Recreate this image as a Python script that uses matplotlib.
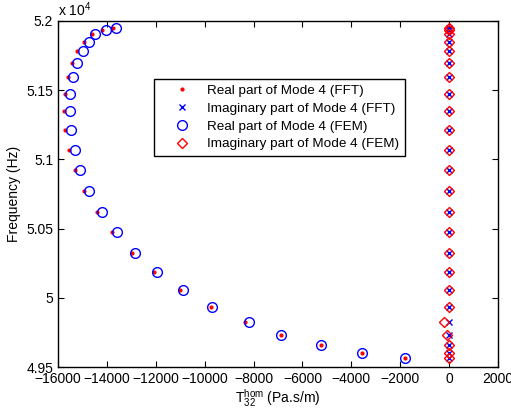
import numpy as np
import matplotlib.pyplot as plt

plt.rcParams['font.family'] = ['Liberation Sans', 'DejaVu Sans']
plt.rcParams['font.size'] = 10
plt.rcParams['mathtext.fontset'] = 'custom'
plt.rcParams['mathtext.rm'] = 'Liberation Sans'
plt.rcParams['mathtext.it'] = 'Liberation Sans'

# frequencies (Hz) of the modes
freq = [51952, 51937, 51904, 51850, 51781, 51694, 51593, 51475, 51350, 51215,
        51070, 50921, 50774, 50622, 50473, 50326, 50189, 50054, 49934, 49825,
        49731, 49657, 49601, 49567]

# real part, FEM
real_fem = [-13640, -14040, -14470, -14720, -14990, -15210, -15370, -15500, -15510, -15470,
            -15300, -15090, -14720, -14210, -13600, -12850, -11940, -10890, -9690, -8200,
            -6880, -5230, -3560, -1800]

# real part, FFT
real_fft = [-13760, -14200, -14600, -14920, -15210, -15440, -15610, -15730, -15750, -15700,
            -15550, -15290, -14940, -14420, -13790, -12990, -12070, -11000, -9760, -8370,
            -6880, -5230, -3560, -1800]

# imaginary part, FFT and FEM
imag_fft = [0, 0, 0, 0, 0, 0, 0, 0, 0, 0,
            0, 0, 0, 0, 0, 0, 0, 0, 0, 0,
            0, 0, 0, 0]
imag_fem = [0, 0, 0, 0, 0, 0, 0, 0, 0, 0,
            0, 0, 0, 0, 0, 0, 0, 0, 0, -200,
            -80, 0, 0, 0]

fig = plt.figure(figsize=(5.11, 4.19), dpi=100)
ax = fig.add_axes([0.1135, 0.1241, 0.8611, 0.8258])

ax.plot(real_fft, freq, '.', color='red', markersize=4, label='Real part of Mode 4 (FFT)')
ax.plot(imag_fft, freq, 'x', color='blue', markersize=4.5, markeredgewidth=1, label='Imaginary part of Mode 4 (FFT)')
ax.plot(real_fem, freq, 'o', color='blue', markerfacecolor='none', markersize=7, markeredgewidth=1,
        label='Real part of Mode 4 (FEM)')
ax.plot(imag_fem, freq, 'D', color='red', markerfacecolor='none', markersize=5, markeredgewidth=1,
        label='Imaginary part of Mode 4 (FEM)')

ax.set_xlim(-16000, 2000)
ax.set_ylim(49500, 52000)
ax.set_xticks(np.arange(-16000, 2001, 2000))
ax.set_xticklabels(['\u221216000', '\u221214000', '\u221212000', '\u221210000', '\u22128000',
                    '\u22126000', '\u22124000', '\u22122000', '0', '2000'])
ax.set_yticks(np.arange(49500, 52001, 500))
ax.set_yticklabels(['4.95', '5', '5.05', '5.1', '5.15', '5.2'])
ax.tick_params(direction='in', top=True, right=True, length=4, width=0.8, labelsize=10)
for s in ax.spines.values():
    s.set_linewidth(1)

ax.text(0, 1.006, r'x 10$^{4}$', transform=ax.transAxes, ha='left', va='bottom', fontsize=10)
ax.set_xlabel(r'T$_{32}^{\mathrm{hom}}$ (Pa.s/m)', labelpad=1)
ax.set_ylabel('Frequency (Hz)', labelpad=4)

leg = ax.legend(loc='upper left', bbox_to_anchor=(0.218, 0.832), borderaxespad=0,
                fancybox=False, framealpha=1, edgecolor='black', borderpad=0.4,
                labelspacing=0.4, handletextpad=0.25, handlelength=3.3, fontsize=9.7)
leg.get_frame().set_linewidth(1)

fig.savefig('out.png', dpi=100)
